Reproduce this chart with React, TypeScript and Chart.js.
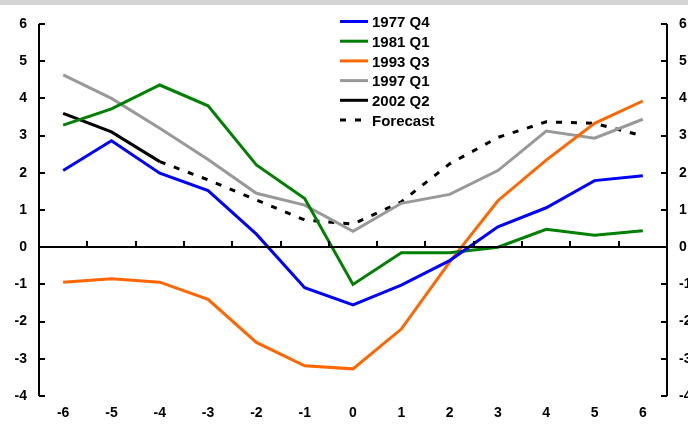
import React, { useEffect, useRef } from 'react';
import { Chart, registerables } from 'chart.js';

Chart.register(...registerables);

const quarters = ['-6', '-5', '-4', '-3', '-2', '-1', '0', '1', '2', '3', '4', '5', '6'];
const s1977Q4 = [2.06, 2.86, 1.99, 1.52, 0.35, -1.09, -1.55, -1.02, -0.36, 0.55, 1.06, 1.79, 1.92];
const s1981Q1 = [3.28, 3.72, 4.36, 3.8, 2.21, 1.31, -1.0, -0.15, -0.15, 0.0, 0.48, 0.32, 0.44];
const s1993Q3 = [-0.94, -0.85, -0.94, -1.4, -2.56, -3.19, -3.27, -2.2, -0.4, 1.25, 2.34, 3.33, 3.93];
const s1997Q1 = [4.63, 4.0, 3.2, 2.36, 1.45, 1.13, 0.43, 1.18, 1.42, 2.06, 3.12, 2.93, 3.44];
const s2002Q2 = [3.6, 3.1, 2.3, null, null, null, null, null, null, null, null, null, null];
const forecast = [null, null, 2.3, 1.81, 1.27, 0.73, 0.62, 1.22, 2.24, 2.95, 3.37, 3.33, 2.99];
const seriesLabels = ['1977 Q4', '1981 Q1', '1993 Q3', '1997 Q1', '2002 Q2', 'Forecast'];
const Y_MIN = -4;
const Y_MAX = 6;

const FONT = "'Liberation Sans', Arial, sans-serif";

const framePlugin = {
  id: 'frame',
  afterDraw(chart: any) {
    const ctx = chart.ctx;
    const { left, right, top, bottom } = chart.chartArea;
    const ys = chart.scales.y;
    const xs = chart.scales.x;
    ctx.save();
    // top grey band (cut-off title area)
    ctx.fillStyle = '#d4d4d4';
    ctx.fillRect(0, 0, chart.width, 5);

    ctx.strokeStyle = '#000';
    ctx.lineWidth = 2;
    ctx.lineCap = 'butt';
    // left & right axis lines
    ctx.beginPath();
    ctx.moveTo(left, top);
    ctx.lineTo(left, bottom);
    ctx.moveTo(right, top);
    ctx.lineTo(right, bottom);
    ctx.stroke();
    // inward ticks
    ctx.beginPath();
    for (let v = Y_MIN; v <= Y_MAX; v++) {
      const py = Math.round(ys.getPixelForValue(v));
      ctx.moveTo(left, py);
      ctx.lineTo(left + 6, py);
      ctx.moveTo(right - 6, py);
      ctx.lineTo(right, py);
    }
    ctx.stroke();
    // zero line
    const y0 = Math.round(ys.getPixelForValue(0));
    ctx.beginPath();
    ctx.moveTo(left, y0);
    ctx.lineTo(right, y0);
    for (let i = 0; i < quarters.length - 1; i++) {
      const bx = Math.round((xs.getPixelForValue(i) + xs.getPixelForValue(i + 1)) / 2);
      ctx.moveTo(bx, y0);
      ctx.lineTo(bx, y0 - 6);
    }
    ctx.stroke();

    // legend
    const lx0 = 340;
    const lx1 = 368;
    const tx = 372;
    const ly = 21.5;
    const step = 19.7;
    ctx.font = 'bold 15px ' + FONT;
    ctx.textBaseline = 'middle';
    ctx.textAlign = 'left';
    chart.data.datasets.forEach((ds: any, i: number) => {
      const yy = ly + i * step;
      ctx.strokeStyle = ds.borderColor;
      ctx.lineWidth = 3;
      ctx.setLineDash(ds.borderDash || []);
      ctx.beginPath();
      ctx.moveTo(lx0, yy);
      ctx.lineTo(lx1, yy);
      ctx.stroke();
      ctx.setLineDash([]);
      ctx.fillStyle = '#000';
      ctx.fillText(ds.label, tx, yy + 1.5);
    });
    ctx.restore();
  },
};

export default function App() {
  const ref = useRef<HTMLCanvasElement>(null);
  useEffect(() => {
    document.body.style.margin = '0';
    const canvas = ref.current!;
    const mk = (label: string, data: (number | null)[], color: string, dash?: number[]) => ({
      label,
      data,
      borderColor: color,
      backgroundColor: color,
      borderWidth: 3,
      borderDash: dash,
      pointRadius: 0,
      tension: 0,
      fill: false,
      spanGaps: false,
    });
    const chart = new Chart(canvas, {
      type: 'line',
      data: {
        labels: quarters,
        datasets: [
          mk(seriesLabels[0], s1977Q4, '#0000ff'),
          mk(seriesLabels[1], s1981Q1, '#008000'),
          mk(seriesLabels[2], s1993Q3, '#ff6600'),
          mk(seriesLabels[3], s1997Q1, '#999999'),
          mk(seriesLabels[4], s2002Q2, '#000000'),
          mk(seriesLabels[5], forecast, '#000000', [6, 9]),
        ] as any,
      },
      options: {
        animation: false,
        responsive: false,
        layout: { padding: { top: 24, left: 0, right: 0, bottom: 0 } },
        plugins: { legend: { display: false }, tooltip: { enabled: false }, title: { display: false } },
        scales: {
          x: {
            type: 'category',
            offset: true,
            grid: { display: false, drawTicks: false },
            border: { display: false },
            ticks: { color: '#000', font: { family: FONT, size: 14, weight: 'bold' }, padding: 9, maxRotation: 0, autoSkip: false },
            afterFit: (s: any) => { s.height = 33; },
          },
          y: {
            position: 'left',
            min: Y_MIN,
            max: Y_MAX,
            grid: { display: false, drawTicks: false },
            border: { display: false },
            ticks: { stepSize: 1, color: '#000', font: { family: FONT, size: 14, weight: 'bold' }, padding: 12 },
            afterFit: (s: any) => { s.width = 39; },
          },
          y2: {
            position: 'right',
            min: Y_MIN,
            max: Y_MAX,
            grid: { display: false, drawTicks: false },
            border: { display: false },
            ticks: { stepSize: 1, color: '#000', font: { family: FONT, size: 14, weight: 'bold' }, padding: 12 },
            afterFit: (s: any) => { s.width = 21; },
          },
        },
      } as any,
      plugins: [framePlugin],
    });
    return () => chart.destroy();
  }, []);
  return <canvas ref={ref} width={688} height={429} style={{ display: 'block' }} />;
}
